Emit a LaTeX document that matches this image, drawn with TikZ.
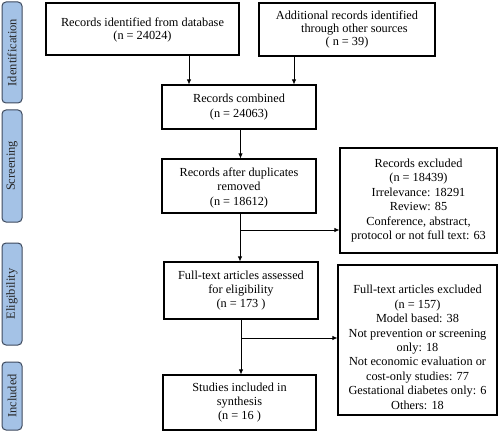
\documentclass[tikz,border=0pt]{standalone}
\usepackage{fontspec}
\setmainfont{Liberation Serif}
\usetikzlibrary{arrows.meta,positioning,calc}
\definecolor{sidefill}{HTML}{A4C2E6}
\definecolor{sidedraw}{HTML}{3E4A5E}
\begin{document}
\begin{tikzpicture}[x=1pt,y=-1pt,
  box/.style={draw=black,line width=1.1pt,fill=white,align=center,font=\fontsize{12.3}{14.4}\selectfont,inner sep=1pt},
  side/.style={draw=sidedraw,fill=sidefill,line width=1pt,rounded corners=4pt,minimum width=20pt,rotate=90,font=\fontsize{12.5}{13}\selectfont,text=black!85,inner sep=1pt},
  arr/.style={line width=0.8pt,-{Latex[length=5pt,width=4.5pt]}}]
\useasboundingbox (0,0) rectangle (500,433);
% side labels (minimum width is along text after rotation: height on page)
\node[side,minimum width=101pt,minimum height=20pt] (sid) at (12,52.5) {Identification};
\node[side,minimum width=112pt,minimum height=20pt] (ssc) at (12,166) {Screening};
\node[side,minimum width=102pt,minimum height=20pt] (sel) at (12,294) {Eligibility};
\node[side,minimum width=68pt,minimum height=20pt] (sin) at (12,396) {Included};
% boxes
\node[box,minimum width=193pt,minimum height=52pt,font=\fontsize{12.3}{13.2}\selectfont] (db) at (142.5,29) {\rule{0pt}{11pt}Records identified from database\\(n = 24024)};
\node[box,minimum width=176pt,minimum height=53pt,font=\fontsize{12.3}{13.2}\selectfont] (add) at (347,29.5) {Additional records identified\\\hspace*{1.2em}through other sources\\( n = 39)};
\node[box,minimum width=154pt,minimum height=44pt] (comb) at (239,107) {Records combined\\(n = 24063)};
\node[box,minimum width=154pt,minimum height=54pt] (dup) at (239,186) {\rule{0pt}{12pt}Records after duplicates\\removed\\(n = 18612)};
\node[box,minimum width=157pt,minimum height=105pt] (ex1) at (418.5,200.5) {Records excluded\\(n = 18439)\\Irrelevance: 18291\\Review: 85\\Conference, abstract,\\protocol or not full text: 63};
\node[box,minimum width=154pt,minimum height=57pt] (ft) at (241,290.5) {Full-text articles assessed\\for eligibility\\(n = 173 )};
\node[box,minimum width=159pt,minimum height=150pt] (ex2) at (417.5,340) {\rule{0pt}{23pt}Full-text articles excluded\\(n = 157)\\Model based: 38\\Not prevention or screening\\only: 18\\Not economic evaluation or\\cost-only studies: 77\\Gestational diabetes only: 6\\Others: 18};
\node[box,minimum width=153pt,minimum height=55pt] (inc) at (239.5,402.5) {Studies included in\\synthesis\\(n = 16 )};
% connectors
\coordinate (c1) at (189,0);
\coordinate (c2) at (294,0);
\coordinate (c3) at (240.5,0);
\coordinate (b1) at (240,230);
\coordinate (b2) at (241,338);
\draw[arr] (db.south -| c1) -- (c1 |- comb.north);
\draw[arr] (add.south -| c2) -- (c2 |- comb.north);
\draw[arr] (comb.south -| c3) -- (c3 |- dup.north);
\draw[arr] (dup.south -| b1) -- (b1 |- ft.north);
\draw[arr] (b1) -- (b1 -| ex1.west);
\draw[arr] (ft.south -| b2) -- (b2 |- inc.north);
\draw[arr] (b2) -- (b2 -| ex2.west);
\end{tikzpicture}
\end{document}
